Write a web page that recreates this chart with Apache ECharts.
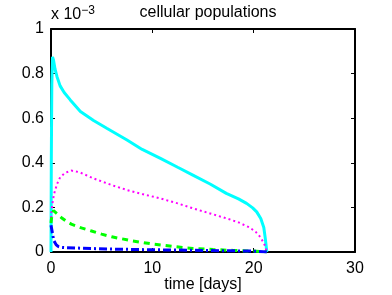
<!DOCTYPE html>
<html><head><meta charset="utf-8">
<script src="https://cdn.jsdelivr.net/npm/echarts@6/dist/echarts.min.js"></script>
<style>html,body{margin:0;padding:0;background:#fff}#c{width:392px;height:295px}</style>
</head><body><div id="c"></div>
<script>
// time [days] and values (x 10^-3)
const cyanT = [0, 0.03, 0.08, 0.15, 0.25, 0.4, 0.6, 0.9, 1.3, 1.9, 2.9, 4.2, 5.5, 7.5, 9, 10.8, 12.5, 14, 15.7, 17.3, 18.5, 19.3, 19.9, 20.3, 20.7, 21, 21.15, 21.3];
const cyanV = [0, 0.4, 0.75, 0.875, 0.86, 0.82, 0.785, 0.745, 0.715, 0.682, 0.63, 0.59, 0.555, 0.502, 0.46, 0.42, 0.38, 0.345, 0.305, 0.263, 0.238, 0.218, 0.198, 0.18, 0.15, 0.11, 0.06, 0];
const magT = [0, 0.05, 0.15, 0.3, 0.6, 0.9, 1.4, 2.0, 2.8, 4.2, 6, 7.5, 9, 10.8, 12.5, 14, 15.7, 17.3, 18.5, 19.6, 20.2, 20.7, 21.1, 21.3];
const magV = [0.13, 0.18, 0.22, 0.26, 0.305, 0.335, 0.355, 0.365, 0.358, 0.33, 0.3, 0.278, 0.26, 0.24, 0.218, 0.196, 0.173, 0.151, 0.133, 0.11, 0.09, 0.065, 0.03, 0];
const grnT = [0, 0.1, 0.25, 0.5, 1, 1.5, 2, 3, 4, 5, 6, 8, 10, 12, 14, 16, 18, 20, 21.3];
const grnV = [0.13, 0.17, 0.185, 0.175, 0.155, 0.138, 0.125, 0.108, 0.094, 0.08, 0.068, 0.05, 0.036, 0.025, 0.016, 0.011, 0.007, 0.004, 0];
const bluT = [0, 0.1, 0.2, 0.3, 0.5, 0.7, 1, 1.5, 3, 6, 10, 15, 20, 21.3];
const bluV = [0.12, 0.095, 0.07, 0.05, 0.033, 0.025, 0.021, 0.019, 0.017, 0.013, 0.01, 0.007, 0.004, 0];
const xTicks = [0, 10, 20, 30];
const yTicks = [0, 0.2, 0.4, 0.6, 0.8, 1];

const zip = (t, v) => t.map((x, i) => [x, v[i]]);
const chart = echarts.init(document.getElementById('c'));
const font = 'Liberation Sans, Arial, Helvetica, sans-serif';
const axLine = {show: true, onZero: false, lineStyle: {color: '#000', width: 2}};
const tick = {show: true, inside: true, length: 4, lineStyle: {color: '#000', width: 1}};
chart.setOption({
  animation: false,
  backgroundColor: '#fff',
  title: {text: 'cellular populations', left: 203, top: 0, textAlign: 'center',
    textStyle: {fontFamily: font, fontSize: 16, fontWeight: 'normal', color: '#000'}},
  grid: {left: 51, right: 37, top: 29, bottom: 43, containLabel: false, outerBoundsMode: 'none'},
  xAxis: [
    {type: 'value', min: 0, max: 30, interval: 10, position: 'bottom',
     axisLine: axLine, axisTick: tick, splitLine: {show: false},
     axisLabel: {color: '#000', fontFamily: font, fontSize: 16, margin: 9,
       formatter: v => String(v)},
     name: 'time [days]', nameLocation: 'middle', nameGap: 25, nameMoveOverlap: false,
     nameTextStyle: {color: '#000', fontFamily: font, fontSize: 16}},
    {type: 'value', min: 0, max: 30, interval: 10, position: 'top',
     axisLine: axLine, axisTick: tick, splitLine: {show: false}, axisLabel: {show: false}}
  ],
  yAxis: [
    {type: 'value', min: 0, max: 1, interval: 0.2, position: 'left',
     axisLine: axLine, axisTick: tick, splitLine: {show: false},
     axisLabel: {color: '#000', fontFamily: font, fontSize: 16, margin: 7,
       formatter: v => String(+v.toFixed(1))},
     name: 'x 10{sup|−3}', nameLocation: 'end', nameGap: 4, nameMoveOverlap: false,
     nameTextStyle: {color: '#000', fontFamily: font, fontSize: 16, align: 'left',
       rich: {sup: {fontSize: 12, verticalAlign: 'top', padding: [0,0,8,0], fontFamily: font, color: '#000'}}}},
    {type: 'value', min: 0, max: 1, interval: 0.2, position: 'right',
     axisLine: axLine, axisTick: tick, splitLine: {show: false}, axisLabel: {show: false}}
  ],
  series: [
    {type: 'line', data: zip(cyanT, cyanV), showSymbol: false, lineStyle: {color: '#00ffff', width: 3, type: 'solid'}, z: 3},
    {type: 'line', data: zip(magT, magV), showSymbol: false, lineStyle: {color: '#ff00ff', width: 2, type: [2, 3]}, z: 4},
    {type: 'line', data: zip(grnT, grnV), showSymbol: false, lineStyle: {color: '#00ff00', width: 3, type: [6, 5]}, z: 5},
    {type: 'line', data: zip(bluT, bluV), showSymbol: false, lineStyle: {color: '#0000ff', width: 3, type: [8, 3, 2, 3]}, z: 6}
  ]
});
</script></body></html>
